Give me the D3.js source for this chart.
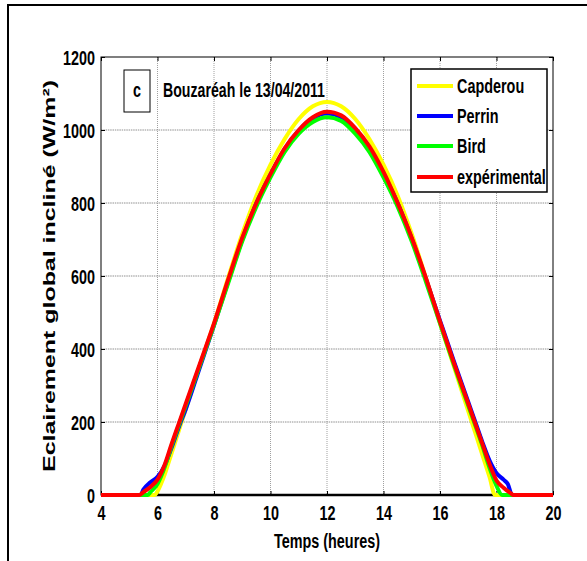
<!DOCTYPE html>
<html><head><meta charset="utf-8">
<script src="https://cdn.jsdelivr.net/npm/d3@7"></script>
<style>
html,body{margin:0;padding:0;background:#fff;}
svg{display:block;}
.nar{font-family:"Liberation Sans",Arial,sans-serif;font-weight:bold;}
</style></head><body>
<script>
// ---- data ----
const xTicks = [4,6,8,10,12,14,16,18,20];
const yTicks = [0,200,400,600,800,1000,1200];
const seriesNames = ["Capderou","Perrin","Bird","expérimental"];
const seriesColors = ["#ffff00","#0000ff","#00ff00","#ff0000"];

const capderouT = [4,5,5.9,6,6.25,6.5,6.75,7,7.5,8,8.5,9,9.5,10,10.5,11,11.5,12,12.5,13,13.5,14,14.5,15,15.5,16,16.5,17,17.25,17.5,17.75,17.95,19,20];
const capderouG = [0,0,0,10,55,115,175,235,355,470,595,715,820,905,975,1030,1065,1077,1065,1030,975,905,820,715,595,470,350,230,170,110,50,0,0,0];

const perrinT = [4,5,5.4,5.5,5.75,6,6.25,6.5,6.75,7,7.5,8,8.5,9,9.5,10,10.5,11,11.5,12,12.5,13,13.5,14,14.5,15,15.5,16,16.5,17,17.25,17.5,17.75,18,18.25,18.4,18.55,19,20];
const perrinG = [0,0,0,15,35,50,80,130,185,235,350,465,585,700,800,878,948,998,1032,1045,1035,1000,950,880,800,702,592,478,365,255,200,145,95,60,42,30,0,0,0];

const birdT = [4,5,5.65,5.75,6,6.25,6.5,6.75,7,7.5,8,8.5,9,9.5,10,10.5,11,11.5,12,12.5,13,13.5,14,14.5,15,15.5,16,16.5,17,17.5,17.75,18,18.2,19,20];
const birdG = [0,0,0,8,30,75,135,190,245,355,465,580,695,790,870,940,990,1022,1035,1025,990,940,870,790,695,585,470,355,245,135,75,25,0,0,0];

const expT = [4,5,5.35,5.5,5.75,6,6.25,6.5,6.75,7,7.5,8,8.5,9,9.5,10,10.5,11,11.5,12,12.5,13,13.5,14,14.5,15,15.5,16,16.5,17,17.25,17.5,17.75,18,18.25,18.5,18.6,19,20];
const expG = [0,0,0,8,22,42,82,140,195,250,360,470,590,705,800,880,950,1000,1035,1050,1040,1005,955,885,800,705,595,475,360,250,195,140,85,40,20,5,0,0,0];

const series = [
  {name:seriesNames[0], color:seriesColors[0], t:capderouT, g:capderouG},
  {name:seriesNames[1], color:seriesColors[1], t:perrinT, g:perrinG},
  {name:seriesNames[2], color:seriesColors[2], t:birdT, g:birdG},
  {name:seriesNames[3], color:seriesColors[3], t:expT, g:expG}
];

// ---- layout ----
const W=587,H=561;
const m={l:101,r:553,t:57,b:495};
const SX=0.8, SY=1.15, FS=18;
const svg=d3.select("body").append("svg").attr("width",W).attr("height",H);
svg.append("rect").attr("width",W).attr("height",H).attr("fill","#fff");

function ntext(parent,x0,y0,str,anchor,len){
  const t=parent.append("text").attr("class","nar").attr("x",0).attr("y",0)
    .attr("transform",`translate(${x0},${y0}) scale(${SX},${SY})`)
    .attr("text-anchor",anchor||"start").style("font-size",FS+"px").attr("fill","#000").text(str);
  if(len) t.attr("textLength",len/SX).attr("lengthAdjust","spacingAndGlyphs");
  return t;
}

// outer frame (cut at right/bottom)
svg.append("path").attr("d",`M8,${H+2} L8,5 L${W+2},5`).attr("fill","none").attr("stroke","#000").attr("stroke-width",2);

const x=d3.scaleLinear().domain([4,20]).range([m.l,m.r]);
const y=d3.scaleLinear().domain([0,1200]).range([m.b,m.t]);

const g=svg.append("g");
// grid
g.selectAll(".vg").data(xTicks.slice(1,-1)).enter().append("line")
 .attr("x1",d=>x(d)).attr("x2",d=>x(d)).attr("y1",m.t).attr("y2",m.b)
 .attr("stroke","#a0a0a0").attr("stroke-width",1).attr("stroke-dasharray","1,1");
g.selectAll(".hg").data(yTicks.slice(1,-1)).enter().append("line")
 .attr("y1",d=>y(d)).attr("y2",d=>y(d)).attr("x1",m.l).attr("x2",m.r)
 .attr("stroke","#909090").attr("stroke-width",1).attr("stroke-dasharray","1.5,0.8");

// plot box
g.append("rect").attr("x",m.l).attr("y",m.t).attr("width",m.r-m.l).attr("height",m.b-m.t)
 .attr("fill","none").attr("stroke","#000").attr("stroke-width",1);
g.append("line").attr("x1",m.l).attr("x2",m.r).attr("y1",m.b).attr("y2",m.b).attr("stroke","#000").attr("stroke-width",2.5);

// axes with inner ticks
const xa=d3.axisBottom(x).tickValues(xTicks).tickSize(-4).tickFormat(d3.format("d"));
const ya=d3.axisLeft(y).tickValues(yTicks).tickSize(-4).tickFormat(d3.format("d"));
const xAxG=svg.append("g").attr("transform",`translate(0,${m.b})`).call(xa);
const yAxG=svg.append("g").attr("transform",`translate(${m.l},0)`).call(ya);
svg.append("g").attr("transform",`translate(0,${m.t})`).call(d3.axisTop(x).tickValues(xTicks).tickSize(-4).tickFormat(""));
svg.append("g").attr("transform",`translate(${m.r},0)`).call(d3.axisRight(y).tickValues(yTicks).tickSize(-4).tickFormat(""));
svg.selectAll(".domain").remove();
xAxG.selectAll("text").each(function(){
  d3.select(this).attr("class","nar").attr("x",0).attr("y",0).attr("dy",null)
   .attr("transform",`translate(0,25) scale(${SX},${SY})`).style("font-size",FS+"px").attr("fill","#000");
});
yAxG.selectAll("text").each(function(){
  d3.select(this).attr("class","nar").attr("x",0).attr("y",0).attr("dy",null)
   .attr("transform",`translate(-6,7) scale(${SX},${SY})`).style("font-size",FS+"px").attr("fill","#000");
});

// curves
svg.append("clipPath").attr("id","clp").append("rect").attr("x",m.l).attr("y",m.t-10).attr("width",m.r-m.l).attr("height",m.b-m.t+12);
const line=d3.line().x(d=>x(d[0])).y(d=>y(d[1])).curve(d3.curveMonotoneX);
const cg=svg.append("g").attr("clip-path","url(#clp)");
series.forEach(s=>{
  cg.append("path").datum(s.t.map((t,i)=>[t,s.g[i]])).attr("d",line)
   .attr("fill","none").attr("stroke",s.color).attr("stroke-width",4).attr("stroke-linejoin","round");
});

// annotation box "c"
svg.append("rect").attr("x",124).attr("y",70).attr("width",26).attr("height",42).attr("fill","#fff").attr("stroke","#000").attr("stroke-width",1);
ntext(svg,137,97,"c","middle");
ntext(svg,163,97,"Bouzaréah le 13/04/2011","start",162);

// legend
svg.append("rect").attr("x",411).attr("y",69).attr("width",136).attr("height",123).attr("fill","#fff").attr("stroke","#000").attr("stroke-width",1.5);
const ly=[86,116,146,177];
series.forEach((s,i)=>{
  svg.append("line").attr("x1",417).attr("x2",453).attr("y1",ly[i]).attr("y2",ly[i]).attr("stroke",s.color).attr("stroke-width",4);
  ntext(svg,457,ly[i]+7,s.name,"start");
});

// axis titles
ntext(svg,(m.l+m.r)/2,548,"Temps (heures)","middle");
svg.append("text").attr("transform",`translate(55,${(m.t+m.b)/2}) rotate(-90)`).attr("text-anchor","middle")
 .style("font-family","'Liberation Sans',Arial,sans-serif").style("font-weight","bold").style("font-size","16px")
 .attr("textLength",392).attr("lengthAdjust","spacingAndGlyphs")
 .text("Eclairement global incliné (W/m²)");
</script>
</body></html>
